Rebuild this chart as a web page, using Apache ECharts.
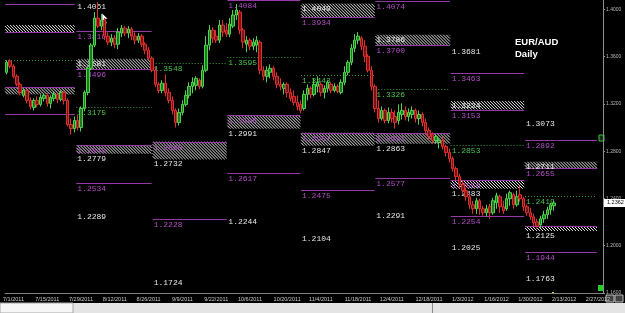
<!DOCTYPE html>
<html>
<head>
<meta charset="utf-8">
<script src="https://cdn.jsdelivr.net/npm/echarts@6/dist/echarts.min.js"></script>
<style>
html,body{margin:0;padding:0;background:#000;}
#main{width:625px;height:313px;}
</style>
</head>
<body>
<div id="main"></div>
<script>
// EUR/AUD daily, open / close / low / high
var candles = [
 [1.3468,1.3553,1.3451,1.3570],[1.3562,1.3519,1.3502,1.3579],[1.3519,1.3434,1.3417,1.3536],[1.3434,1.3366,1.3349,1.3451],
 [1.3366,1.3298,1.3273,1.3383],[1.3273,1.3315,1.3256,1.3332],[1.3315,1.3230,1.3205,1.3324],[1.3230,1.3179,1.3154,1.3256],
 [1.3171,1.3230,1.3145,1.3247],[1.3230,1.3196,1.3171,1.3264],[1.3196,1.3256,1.3179,1.3281],[1.3247,1.3273,1.3222,1.3290],
 [1.3273,1.3205,1.3179,1.3290],[1.3205,1.3256,1.3162,1.3273],[1.3247,1.3281,1.3222,1.3307],[1.3281,1.3239,1.3205,1.3298],
 [1.3239,1.3298,1.3222,1.3315],[1.3298,1.3230,1.3196,1.3307],[1.3230,1.3026,1.3009,1.3247],[1.3026,1.2992,1.2942,1.3077],
 [1.2992,1.3060,1.2959,1.3094],[1.3060,1.3001,1.2975,1.3111],[1.3001,1.3162,1.2967,1.3179],[1.3162,1.3298,1.3137,1.3315],
 [1.3298,1.3502,1.3273,1.3519],[1.3502,1.3698,1.3485,1.3715],[1.3698,1.3927,1.3681,1.3978],[1.3927,1.3859,1.3842,1.4063],
 [1.3859,1.3910,1.3825,1.3961],[1.3910,1.3774,1.3740,1.3927],[1.3774,1.3723,1.3698,1.3808],[1.3723,1.3757,1.3689,1.3791],
 [1.3757,1.3706,1.3672,1.3783],[1.3706,1.3808,1.3664,1.3842],[1.3800,1.3842,1.3766,1.3868],[1.3842,1.3800,1.3774,1.3859],
 [1.3800,1.3834,1.3757,1.3859],[1.3834,1.3774,1.3740,1.3851],[1.3774,1.3740,1.3706,1.3808],[1.3740,1.3774,1.3715,1.3800],
 [1.3774,1.3706,1.3681,1.3791],[1.3706,1.3655,1.3621,1.3723],[1.3655,1.3587,1.3570,1.3681],[1.3587,1.3485,1.3468,1.3604],
 [1.3485,1.3366,1.3341,1.3519],[1.3366,1.3315,1.3290,1.3383],[1.3315,1.3375,1.3290,1.3400],[1.3375,1.3298,1.3264,1.3451],
 [1.3298,1.3230,1.3205,1.3332],[1.3230,1.3145,1.3111,1.3264],[1.3145,1.3043,1.3001,1.3162],[1.3043,1.3128,1.3018,1.3162],
 [1.3128,1.3196,1.3103,1.3230],[1.3196,1.3273,1.3179,1.3315],[1.3273,1.3349,1.3247,1.3383],[1.3349,1.3383,1.3290,1.3426],
 [1.3358,1.3417,1.3315,1.3434],[1.3400,1.3349,1.3324,1.3417],[1.3349,1.3485,1.3332,1.3528],[1.3485,1.3698,1.3468,1.3774],
 [1.3698,1.3825,1.3655,1.3868],[1.3825,1.3757,1.3715,1.3851],[1.3774,1.3740,1.3715,1.3825],[1.3740,1.3868,1.3715,1.3910],
 [1.3868,1.3808,1.3766,1.3910],[1.3825,1.3791,1.3766,1.3885],[1.3791,1.3876,1.3766,1.3927],[1.3859,1.3953,1.3842,1.3995],
 [1.3953,1.3995,1.3910,1.4046],[1.3978,1.3825,1.3791,1.3995],[1.3825,1.3723,1.3672,1.3842],[1.3706,1.3740,1.3638,1.3774],
 [1.3740,1.3689,1.3655,1.3757],[1.3689,1.3723,1.3655,1.3757],[1.3698,1.3740,1.3638,1.3774],[1.3723,1.3485,1.3451,1.3740],
 [1.3485,1.3434,1.3400,1.3519],[1.3434,1.3485,1.3383,1.3519],[1.3468,1.3502,1.3417,1.3536],[1.3502,1.3434,1.3400,1.3519],
 [1.3434,1.3366,1.3332,1.3468],[1.3366,1.3349,1.3315,1.3417],[1.3332,1.3366,1.3281,1.3383],[1.3366,1.3298,1.3256,1.3383],
 [1.3298,1.3247,1.3222,1.3332],[1.3264,1.3213,1.3188,1.3315],[1.3213,1.3179,1.3145,1.3273],[1.3196,1.3145,1.3120,1.3230],
 [1.3162,1.3281,1.3145,1.3315],[1.3281,1.3332,1.3230,1.3366],[1.3332,1.3281,1.3247,1.3349],[1.3281,1.3366,1.3264,1.3417],
 [1.3349,1.3383,1.3298,1.3434],[1.3366,1.3298,1.3264,1.3383],[1.3298,1.3332,1.3247,1.3358],[1.3332,1.3383,1.3298,1.3400],
 [1.3366,1.3315,1.3290,1.3383],[1.3315,1.3349,1.3298,1.3375],[1.3349,1.3307,1.3290,1.3366],[1.3298,1.3383,1.3281,1.3409],
 [1.3383,1.3468,1.3358,1.3519],[1.3468,1.3553,1.3443,1.3570],[1.3553,1.3672,1.3528,1.3706],[1.3672,1.3740,1.3638,1.3791],
 [1.3740,1.3774,1.3706,1.3808],[1.3757,1.3689,1.3655,1.3774],[1.3689,1.3604,1.3553,1.3740],[1.3604,1.3485,1.3468,1.3621],
 [1.3485,1.3349,1.3315,1.3519],[1.3349,1.3162,1.3128,1.3366],[1.3162,1.3077,1.3043,1.3230],[1.3077,1.3145,1.3060,1.3179],
 [1.3145,1.3060,1.3035,1.3162],[1.3060,1.3128,1.3035,1.3171],[1.3128,1.3077,1.3043,1.3162],[1.3094,1.3043,1.2992,1.3145],
 [1.3060,1.3128,1.3026,1.3196],[1.3111,1.3145,1.3069,1.3205],[1.3145,1.3094,1.3060,1.3179],[1.3094,1.3128,1.3052,1.3162],
 [1.3111,1.3145,1.3077,1.3179],[1.3145,1.3077,1.3043,1.3162],[1.3077,1.3111,1.3026,1.3145],[1.3111,1.3043,1.3009,1.3128],
 [1.3043,1.2975,1.2950,1.3077],[1.2975,1.2925,1.2891,1.3001],[1.2942,1.2891,1.2865,1.2959],[1.2891,1.2925,1.2865,1.2942],
 [1.2874,1.2891,1.2823,1.2908],[1.2891,1.2840,1.2814,1.2925],[1.2840,1.2789,1.2755,1.2857],[1.2789,1.2738,1.2704,1.2823],
 [1.2738,1.2653,1.2627,1.2755],[1.2653,1.2585,1.2551,1.2670],[1.2585,1.2517,1.2491,1.2610],[1.2517,1.2466,1.2440,1.2551],
 [1.2466,1.2415,1.2381,1.2491],[1.2415,1.2347,1.2313,1.2440],[1.2347,1.2313,1.2270,1.2381],[1.2313,1.2381,1.2270,1.2406],
 [1.2381,1.2313,1.2262,1.2398],[1.2313,1.2279,1.2253,1.2338],[1.2279,1.2313,1.2245,1.2347],[1.2330,1.2279,1.2228,1.2355],
 [1.2279,1.2381,1.2262,1.2406],[1.2364,1.2423,1.2313,1.2449],[1.2415,1.2330,1.2279,1.2432],[1.2330,1.2296,1.2270,1.2381],
 [1.2313,1.2398,1.2296,1.2440],[1.2398,1.2449,1.2338,1.2466],[1.2432,1.2347,1.2313,1.2449],[1.2347,1.2415,1.2330,1.2466],
 [1.2432,1.2398,1.2372,1.2508],[1.2398,1.2330,1.2296,1.2415],[1.2330,1.2279,1.2253,1.2347],[1.2279,1.2245,1.2219,1.2321],
 [1.2245,1.2194,1.2168,1.2270],[1.2202,1.2168,1.2143,1.2228],[1.2177,1.2228,1.2151,1.2253],[1.2228,1.2262,1.2194,1.2296],
 [1.2262,1.2304,1.2228,1.2330],[1.2304,1.2347,1.2262,1.2364],[1.2338,1.2362,1.2296,1.2381]
];

var barCount = 177;
var tickDates = ['7/1/2011','7/15/2011','7/29/2011','8/12/2011','8/26/2011','9/9/2011','9/22/2011','10/6/2011',
  '10/20/2011','11/4/2011','11/18/2011','12/4/2011','12/18/2011','1/3/2012','1/16/2012','1/30/2012','2/13/2012','2/27/2012'];
var tickIndex = [2,12,22,32,42,52,62,72,83,93,104,114,125,135,145,155,165,175];

// monthly pivot blocks, start / end in bar units
var segStart = [0, 21.1, 43.7, 65.8, 87.6, 109.6, 131.9, 153.9];
var segEnd = [20.6, 43.4, 65.6, 87.4, 109.4, 131.7, 153.7, 175.2];

// [block, value, show label]
var purpleLevels = [
 [0,1.4042,0],[0,1.3808,0],[0,1.3341,0],[0,1.3111,0],
 [1,1.3816,1],[1,1.3496,1],[1,1.2849,1],[1,1.2534,1],
 [2,1.2880,1],[2,1.2228,1],
 [3,1.4084,1],[3,1.3106,1],[3,1.2617,1],
 [4,1.3934,1],[4,1.2957,1],[4,1.2475,1],
 [5,1.4074,1],[5,1.3700,1],[5,1.2951,1],[5,1.2577,1],
 [6,1.3463,1],[6,1.3153,1],[6,1.2556,1],[6,1.2254,1],
 [7,1.2892,1],[7,1.2655,1],[7,1.2168,0],[7,1.1944,1]
];
var greenLevels = [
 [0,1.3570,0],[1,1.3175,1],[2,1.3548,1],[3,1.3595,1],[4,1.3443,1],[5,1.3326,1],[6,1.2853,1],[7,1.2419,1]
];
var whiteLevels = [
 [1,1.4061],[1,1.3581],[1,1.2779],[1,1.2289],[2,1.2732],[2,1.1724],[3,1.2991],[3,1.2244],
 [4,1.4049],[4,1.2847],[4,1.2104],[5,1.3786],[5,1.2863],[5,1.2291],
 [6,1.3681],[6,1.3224],[6,1.2483],[6,1.2025],[7,1.3073],[7,1.2711],[7,1.2125],[7,1.1763]
];
// [block, top, bottom]
var hatchZones = [
 [0,1.3868,1.3808],[0,1.3341,1.3281],[1,1.3581,1.3496],[1,1.2849,1.2779],[2,1.2880,1.2732],
 [3,1.3106,1.2991],[4,1.4049,1.3934],[4,1.2957,1.2847],[5,1.3786,1.3700],[5,1.2951,1.2863],
 [6,1.3224,1.3153],[6,1.2556,1.2483],[7,1.2711,1.2655],[7,1.2168,1.2125]
];

var cats = [];
for (var i = 0; i < barCount; i++) cats.push('');
tickIndex.forEach(function (k, j) { cats[k] = tickDates[j]; });

var lastBar = candles.length - 1;
var lastClose = candles[lastBar][1];

var chart = echarts.init(document.getElementById('main'));

function segPixels(api, s) {
    var band = api.size([1, 0])[0];
    var left = api.coord([0, 1.3])[0] - band / 2;
    return [left + segStart[s] * band, left + segEnd[s] * band];
}
function yPix(api, v) {
    return Math.max(0.5, Math.round(api.coord([0, v])[1]) + 0.5);
}
function levelText(x, y, txt, color) {
    return {
        type: 'text', x: x, y: y + 1,
        style: {text: txt, fill: color, font: '8px "Liberation Mono"', textAlign: 'left', textVerticalAlign: 'top'}
    };
}

var option = {
    backgroundColor: '#000',
    animation: false,
    grid: {left: 0, right: 22, top: 0, bottom: 20},
    xAxis: {
        type: 'category',
        data: cats,
        boundaryGap: true,
        axisLine: {lineStyle: {color: '#808080'}},
        axisTick: {show: false},
        axisLabel: {interval: 0, color: '#c8c8c8', fontSize: 5.5, margin: 3, fontFamily: 'Liberation Sans'},
        splitLine: {show: false}
    },
    yAxis: {
        type: 'value',
        position: 'right',
        min: 1.16,
        max: 1.408,
        interval: 0.04,
        axisLine: {show: true, lineStyle: {color: '#909090'}},
        axisTick: {show: true, length: 2, lineStyle: {color: '#909090'}},
        axisLabel: {
            color: '#b8b8b8', fontSize: 5, margin: 3, fontFamily: 'Liberation Sans', showMaxLabel: false,
            formatter: function (v) { return v.toFixed(4); }
        },
        splitLine: {show: false}
    },
    series: [
        {
            // hatched zones
            type: 'custom', silent: true, z: 1, clip: false,
            data: hatchZones,
            renderItem: function (params, api) {
                var xs = segPixels(api, api.value(0));
                var y0 = api.coord([0, api.value(1)])[1];
                var y1 = api.coord([0, api.value(2)])[1];
                var h = y1 - y0;
                var kids = [];
                for (var p = xs[0] - h; p < xs[1]; p += 3) {
                    var ax = p, ay = y0, bx = p + h, by = y1;
                    if (ax < xs[0]) { ay += xs[0] - ax; ax = xs[0]; }
                    if (bx > xs[1]) { by -= bx - xs[1]; bx = xs[1]; }
                    if (bx <= ax) continue;
                    kids.push({type: 'line', shape: {x1: ax, y1: ay, x2: bx, y2: by},
                        style: {stroke: '#e0e0e0', lineWidth: 1}});
                }
                return {type: 'group', children: kids};
            }
        },
        {
            // purple pivot lines
            type: 'custom', silent: true, z: 1, clip: false,
            data: purpleLevels,
            renderItem: function (params, api) {
                var xs = segPixels(api, api.value(0));
                var y = yPix(api, api.value(1));
                var kids = [{type: 'line', shape: {x1: xs[0], y1: y, x2: xs[1], y2: y},
                    style: {stroke: '#9638a6', lineWidth: 1}}];
                if (api.value(2)) kids.push(levelText(xs[0] + 1, y, api.value(1).toFixed(4), '#b04cc4'));
                return {type: 'group', children: kids};
            }
        },
        {
            // green dotted lines
            type: 'custom', silent: true, z: 1, clip: false,
            data: greenLevels,
            renderItem: function (params, api) {
                var xs = segPixels(api, api.value(0));
                var y = yPix(api, api.value(1));
                var kids = [{type: 'line', shape: {x1: xs[0], y1: y, x2: xs[1], y2: y},
                    style: {stroke: '#3a9e3a', lineWidth: 1, lineDash: [1, 2]}}];
                if (api.value(2)) kids.push(levelText(xs[0] + 1, y, api.value(1).toFixed(4), '#4cc24c'));
                return {type: 'group', children: kids};
            }
        },
        {
            // white level labels
            type: 'custom', silent: true, z: 1, clip: false,
            data: whiteLevels,
            renderItem: function (params, api) {
                var xs = segPixels(api, api.value(0));
                var y = api.coord([0, api.value(1)])[1];
                return levelText(xs[0] + 1, y, api.value(1).toFixed(4), '#e4e4e4');
            }
        },
        {
            type: 'candlestick',
            z: 3,
            barWidth: 3,
            data: candles,
            itemStyle: {
                color: '#1f7a1f', color0: '#7a1414',
                borderColor: '#4fd44f', borderColor0: '#e03030', borderWidth: 1
            }
        },
        {
            // last price tag on the axis
            type: 'custom', silent: true, z: 5, clip: false,
            data: [[lastBar, lastClose]],
            renderItem: function (params, api) {
                var y = api.coord([api.value(0), api.value(1)])[1];
                var x = params.coordSys.x + params.coordSys.width + 1;
                return {type: 'group', children: [
                    {type: 'rect', shape: {x: x, y: y - 4, width: 22, height: 8}, style: {fill: '#ffffff'}},
                    {type: 'text', x: x + 3, y: y, style: {text: api.value(1).toFixed(4), fill: '#000',
                        font: '5.5px "Liberation Sans"', textVerticalAlign: 'middle'}}
                ]};
            }
        }
    ],
    graphic: [
        {type: 'text', left: 515, top: 37, style: {text: 'EUR/AUD', fill: '#ffffff', font: 'bold 9.5px "Liberation Sans"'}},
        {type: 'text', left: 515, top: 49, style: {text: 'Daily', fill: '#ffffff', font: 'bold 9.5px "Liberation Sans"'}},
        {type: 'rect', shape: {x: 0, y: 303, width: 625, height: 10}, style: {fill: '#e4e4e4'}},
        {type: 'rect', shape: {x: 0, y: 303, width: 73, height: 10}, style: {fill: '#f6f6f6', stroke: '#a8a8a8', lineWidth: 1}},
        {type: 'line', shape: {x1: 432.5, y1: 303, x2: 432.5, y2: 313}, style: {stroke: '#8a8a8a', lineWidth: 1}},
        {type: 'rect', shape: {x: 606, y: 295, width: 8, height: 7}, style: {fill: '#404040', stroke: '#bbb', lineWidth: 1}},
        {type: 'rect', shape: {x: 615, y: 295, width: 8, height: 7}, style: {fill: '#404040', stroke: '#bbb', lineWidth: 1}},
        {type: 'rect', shape: {x: 598, y: 285, width: 6, height: 6}, style: {fill: '#22d022'}},
        {type: 'rect', shape: {x: 599, y: 135, width: 5, height: 6}, style: {fill: '#103010', stroke: '#3ac03a', lineWidth: 1}},
        {type: 'rect', shape: {x: 552, y: 292, width: 2, height: 2}, style: {fill: '#e8d84a'}},
        {type: 'polygon', shape: {points: [[102, 13], [102, 22], [104, 20], [106, 24], [107, 23], [105, 19], [108, 19]]},
            style: {fill: '#ffffff', stroke: '#000', lineWidth: 0.5}}
    ]
};
chart.setOption(option);
</script>
</body>
</html>
